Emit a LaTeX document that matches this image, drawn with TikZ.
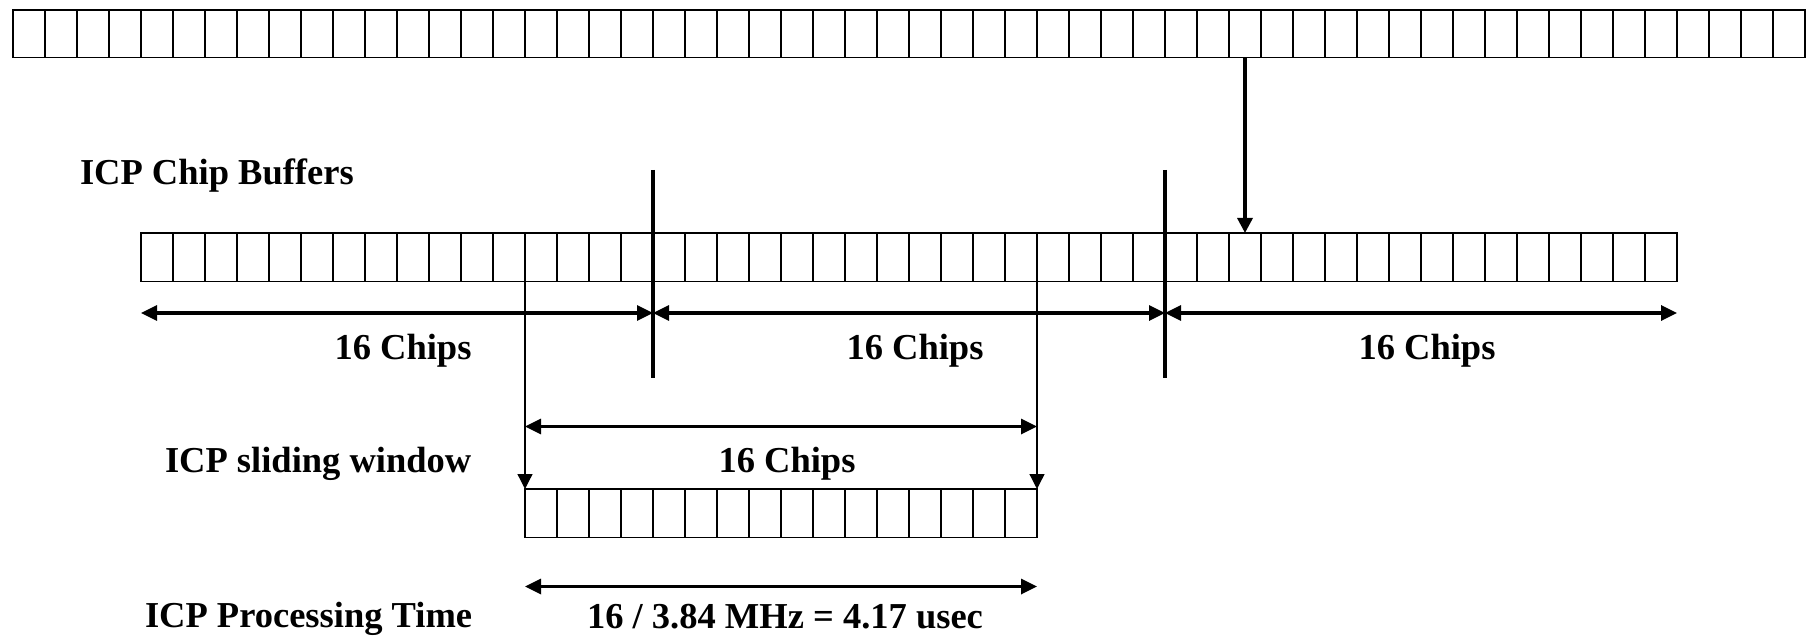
\documentclass[tikz,border=0pt]{standalone}
\usepackage{fontspec}
\setmainfont{Liberation Serif}
\usetikzlibrary{arrows.meta,calc}
\begin{document}
\begin{tikzpicture}[x=1pt,y=-1pt,
  rowbox/.style={draw, inner sep=0pt, outer sep=0pt, anchor=north west},
  lbl/.style={font=\fontsize{36.5}{40}\selectfont\bfseries, inner sep=0pt, outer sep=0pt},
  tip/.style={Triangle[length=16pt,width=15pt]},
  dblarrow/.style={line width=3.3pt, {Triangle[length=16pt,width=15pt]}-{Triangle[length=16pt,width=15pt]}},
  downarrow/.style={line width=3.3pt, -{Triangle[length=15pt,width=15pt]}},
  thinarrow/.style={line width=1.3pt, -{Triangle[length=15pt,width=15pt]}},
  sepline/.style={line width=4pt},
]
\useasboundingbox (0,0) rectangle (1815,639);

% rows of cells
\node[rowbox, line width=1.7pt, minimum width=1792pt, minimum height=47.5pt] (toprow) at (13,10) {};
\foreach \i in {1,...,55}
  \draw[line width=1.7pt] ($(toprow.north west)+(\i*32,0)$) -- ($(toprow.south west)+(\i*32,0)$);

\node[rowbox, line width=1.2pt, minimum width=1536pt, minimum height=48.5pt] (bufrow) at (141,233) {};
\foreach \i in {1,...,47}
  \draw[line width=1.2pt] ($(bufrow.north west)+(\i*32,0)$) -- ($(bufrow.south west)+(\i*32,0)$);

\node[rowbox, line width=1.2pt, minimum width=512pt, minimum height=48.5pt] (winrow) at (525,489) {};
\foreach \i in {1,...,15}
  \draw[line width=1.2pt] ($(winrow.north west)+(\i*32,0)$) -- ($(winrow.south west)+(\i*32,0)$);

% drop arrow from input row into buffer
\coordinate (dropx) at (1245,0);
\draw[downarrow] (toprow.south -| dropx) -- (bufrow.north -| dropx);

% thick separators
\coordinate (s1t) at (653,170);
\coordinate (s1b) at (653,378);
\coordinate (s2t) at (1165,170);
\coordinate (s2b) at (1165,378);
\draw[sepline] (s1t) -- (s1b);
\draw[sepline] (s2t) -- (s2b);

% 16-chip spans
\coordinate (a0) at (141,313);
\coordinate (a1) at (653,313);
\coordinate (a2) at (1165,313);
\coordinate (a3) at (1677,313);
\draw[dblarrow] (a0) -- (a1);
\draw[dblarrow] (a1) -- (a2);
\draw[dblarrow] (a2) -- (a3);

% sliding window guides
\draw[thinarrow] (bufrow.south -| winrow.west) -- (winrow.north west);
\draw[thinarrow] (bufrow.south -| winrow.east) -- (winrow.north east);
\coordinate (w0) at (525,426.5);
\coordinate (w1) at (1037,426.5);
\draw[dblarrow] (w0) -- (w1);

% processing time span
\coordinate (p0) at (525,586.5);
\coordinate (p1) at (1037,586.5);
\draw[dblarrow] (p0) -- (p1);

% labels
\node[lbl, anchor=base west] (lbuf) at (80,185) {ICP Chip Buffers};
\node[lbl, anchor=base] (c1) at (403,359) {16 Chips};
\node[lbl, anchor=base] (c2) at (915,359) {16 Chips};
\node[lbl, anchor=base] (c3) at (1427,359) {16 Chips};
\node[lbl, anchor=base west] (lwin) at (165,472) {ICP sliding window};
\node[lbl, anchor=base] (c4) at (787,472) {16 Chips};
\node[lbl, anchor=base west] (lproc) at (145,627) {ICP Processing Time};
\node[lbl, anchor=base west] (leq) at (587,628) {16 / 3.84 MHz = 4.17 usec};
\end{tikzpicture}
\end{document}
